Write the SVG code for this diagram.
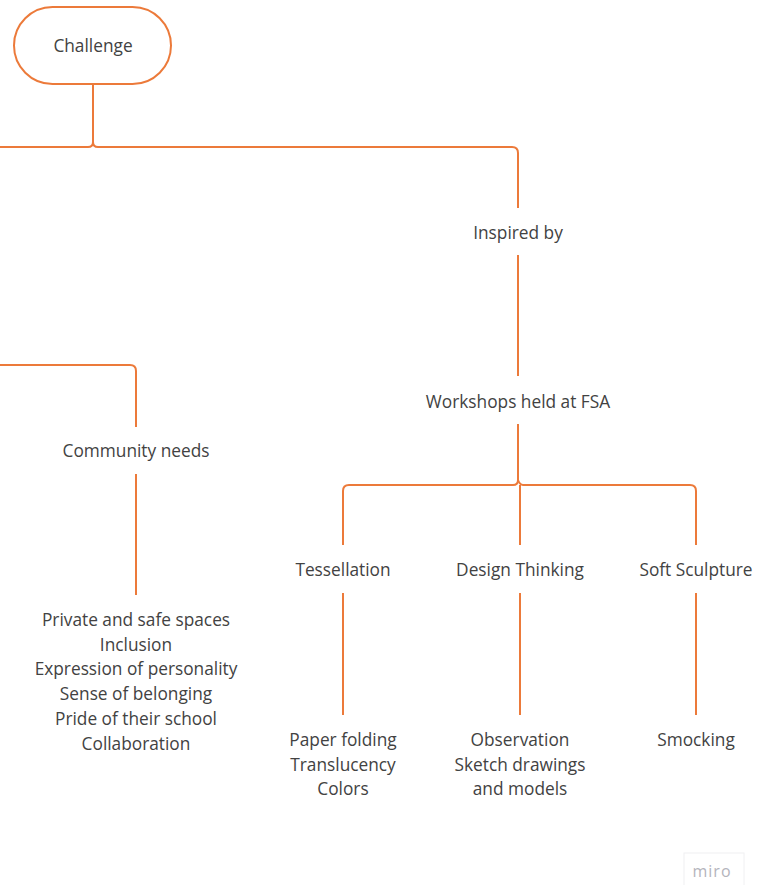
<svg xmlns="http://www.w3.org/2000/svg" width="759" height="885" viewBox="0 0 759 885">
<style>
.t{font-family:"Open Sans","Noto Sans",sans-serif;font-size:17.3px;fill:#424242;text-anchor:middle}
.c{fill:none;stroke:#ec7a3a;stroke-width:2;stroke-linejoin:round}
</style>
<rect width="759" height="885" fill="#ffffff"/>
<g id="connectors">
<path class="c" d="M93 84 V142 Q93 147 88 147 H0"/>
<path class="c" d="M93 142 Q93 147 98 147 H512 Q518 147 518 153 V208"/>
<path class="c" d="M518 255 V376"/>
<path class="c" d="M518 424 V480 Q518 485 513 485 H349 Q343 485 343 491 V545"/>
<path class="c" d="M518 480 Q520 485 523 485 H690 Q696 485 696 491 V545"/>
<path class="c" d="M520 485 V545"/>
<path class="c" d="M343 593 V715"/>
<path class="c" d="M520 593 V715"/>
<path class="c" d="M696 593 V715"/>
<path class="c" d="M0 365 H130 Q136 365 136 371 V427"/>
<path class="c" d="M136 474 V595"/>
</g>
<g id="challenge">
<rect x="14" y="7" width="157" height="77" rx="38.5" fill="#ffffff" stroke="#ec7a3a" stroke-width="2"/>
<text class="t" x="93" y="52">Challenge</text>
</g>
<g id="inspired"><text class="t" x="518" y="239">Inspired by</text></g>
<g id="workshops"><text class="t" x="518" y="408">Workshops held at FSA</text></g>
<g id="community"><text class="t" x="136" y="457">Community needs</text></g>
<g id="needs">
<text class="t" x="136" y="626">Private and safe spaces</text>
<text class="t" x="136" y="651">Inclusion</text>
<text class="t" x="136" y="675">Expression of personality</text>
<text class="t" x="136" y="700">Sense of belonging</text>
<text class="t" x="136" y="725">Pride of their school</text>
<text class="t" x="136" y="750">Collaboration</text>
</g>
<g id="tessellation"><text class="t" x="343" y="576">Tessellation</text></g>
<g id="design"><text class="t" x="520" y="576">Design Thinking</text></g>
<g id="soft"><text class="t" x="696" y="576">Soft Sculpture</text></g>
<g id="tess-out">
<text class="t" x="343" y="746">Paper folding</text>
<text class="t" x="343" y="771">Translucency</text>
<text class="t" x="343" y="795">Colors</text>
</g>
<g id="design-out">
<text class="t" x="520" y="746">Observation</text>
<text class="t" x="520" y="771">Sketch drawings</text>
<text class="t" x="520" y="795">and models</text>
</g>
<g id="soft-out"><text class="t" x="696" y="746">Smocking</text></g>
<g id="miro">
<rect x="684" y="853" width="60" height="34" fill="#ffffff" stroke="#f0f0f2" stroke-width="1"/>
<text x="712" y="877" font-family="'Open Sans',sans-serif" font-size="16" fill="#b4b4bc" text-anchor="middle" letter-spacing="1">miro</text>
</g>
</svg>
